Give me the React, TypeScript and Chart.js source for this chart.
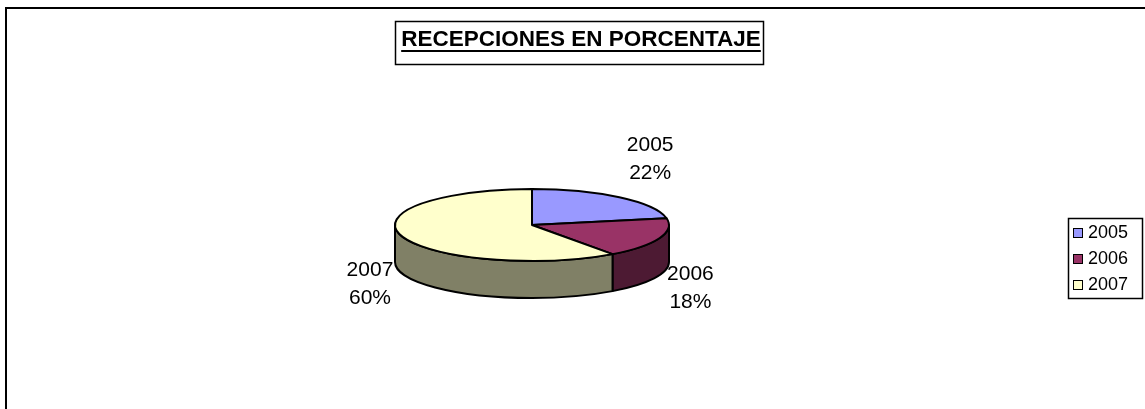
import React, { useEffect, useRef } from "react";
import { Chart, registerables } from "chart.js";

Chart.register(...registerables);

const categories = ["2005", "2006", "2007"];
const values = [22, 18, 60];
const percentLabels = ["22%", "18%", "60%"];
const sliceColors = ["#9999FF", "#993366", "#FFFFCC"];
const sideColors = ["#4D4D80", "#4D1A33", "#808066"];
const chartTitle = "RECEPCIONES EN PORCENTAJE";

const FONT = "'Liberation Sans', Arial, sans-serif";
const TILT = 36 / 137;
const DEPTH = 37 / 137;

function pieGeom(chart: any) {
  const arcs = chart.getDatasetMeta(0).data as any[];
  if (!arcs.length) return null;
  const cx = arcs[0].x;
  const cy = arcs[0].y;
  const rx = arcs[0].outerRadius;
  return { arcs, cx, cy, rx, ry: rx * TILT, depth: rx * DEPTH };
}

const pie3d = {
  id: "pie3d",
  beforeDatasetsDraw(chart: any) {
    const ctx = chart.ctx as CanvasRenderingContext2D;
    const g = pieGeom(chart);
    if (!g) return false;
    const { arcs, cx, cy, rx, ry, depth } = g;
    ctx.save();
    ctx.lineWidth = 2;
    ctx.strokeStyle = "#000";
    ctx.lineJoin = "round";
    arcs.forEach((arc, i) => {
      const a1 = arc.startAngle;
      const a2 = arc.endAngle;
      for (let k = -1; k <= 1; k++) {
        const lo = Math.max(a1, 2 * Math.PI * k);
        const hi = Math.min(a2, 2 * Math.PI * k + Math.PI);
        if (hi <= lo) continue;
        ctx.beginPath();
        ctx.ellipse(cx, cy, rx, ry, 0, lo, hi, false);
        ctx.lineTo(cx + rx * Math.cos(hi), cy + ry * Math.sin(hi) + depth);
        ctx.ellipse(cx, cy + depth, rx, ry, 0, hi, lo, true);
        ctx.closePath();
        ctx.fillStyle = sideColors[i];
        ctx.fill();
        ctx.stroke();
      }
    });
    arcs.forEach((arc, i) => {
      ctx.beginPath();
      ctx.moveTo(cx, cy);
      ctx.ellipse(cx, cy, rx, ry, 0, arc.startAngle, arc.endAngle, false);
      ctx.closePath();
      ctx.fillStyle = sliceColors[i];
      ctx.fill();
      ctx.stroke();
    });
    ctx.restore();
    return false;
  },
};

const decorations = {
  id: "decorations",
  afterDraw(chart: any) {
    const ctx = chart.ctx as CanvasRenderingContext2D;
    ctx.save();
    // data labels
    const g = pieGeom(chart);
    if (g) {
      const { arcs, cx, cy, rx, ry, depth } = g;
      const lineH = 28;
      ctx.font = `21px ${FONT}`;
      ctx.fillStyle = "#000";
      ctx.textAlign = "center";
      ctx.textBaseline = "middle";
      arcs.forEach((arc, i) => {
        const mid = (arc.startAngle + arc.endAngle) / 2;
        const c = Math.cos(mid);
        const s = Math.sin(mid);
        const gap = s < 0 ? 25 : 10;
        const ax = cx + (rx + gap) * c;
        const ay = cy + (ry + gap) * s + (s > 0 ? depth : 0);
        const w = Math.max(ctx.measureText(categories[i]).width, ctx.measureText(percentLabels[i]).width);
        const h = lineH + 21;
        const bx = ax + (c * w) / 2;
        const by = ay + (s * h) / 2;
        ctx.fillText(categories[i], bx, by - lineH / 2);
        ctx.fillText(percentLabels[i], bx, by + lineH / 2);
      });
    }
    // outer chart frame
    ctx.strokeStyle = "#000";
    ctx.lineWidth = 2;
    ctx.strokeRect(6, 8, 1400, 600);
    // title box
    ctx.font = `bold 22.5px ${FONT}`;
    const tw = ctx.measureText(chartTitle).width;
    const tcx = 581;
    const tcy = 40;
    ctx.lineWidth = 1.5;
    ctx.strokeRect(395.5, 21.5, 368, 43);
    ctx.fillStyle = "#000";
    ctx.textAlign = "center";
    ctx.textBaseline = "middle";
    ctx.fillText(chartTitle, tcx, tcy);
    ctx.fillRect(tcx - tw / 2, 50, tw, 2);
    // legend
    const lx = 1068;
    const ly = 218;
    ctx.lineWidth = 1.5;
    ctx.strokeRect(lx + 0.5, ly + 0.5, 74, 80);
    ctx.font = `18px ${FONT}`;
    ctx.textAlign = "left";
    categories.forEach((cat, i) => {
      const yy = ly + 14 + i * 26;
      ctx.fillStyle = sliceColors[i];
      ctx.fillRect(lx + 5, yy - 4, 10, 10);
      ctx.lineWidth = 1;
      ctx.strokeStyle = "#000";
      ctx.strokeRect(lx + 5.5, yy - 3.5, 9, 9);
      ctx.fillStyle = "#000";
      ctx.fillText(cat, lx + 20, yy + 1);
    });
    ctx.restore();
  },
};

export default function App() {
  const canvasRef = useRef<HTMLCanvasElement | null>(null);

  useEffect(() => {
    document.body.style.margin = "0";
    const canvas = canvasRef.current;
    if (!canvas) return;
    const chart = new Chart(canvas, {
      type: "pie",
      data: {
        labels: categories,
        datasets: [
          {
            data: values,
            backgroundColor: sliceColors,
            borderWidth: 0,
          },
        ],
      },
      options: {
        responsive: false,
        animation: false,
        devicePixelRatio: 1,
        layout: { padding: { left: 395, right: 476, top: 88, bottom: 47 } },
        plugins: {
          legend: { display: false },
          title: { display: false },
          tooltip: { enabled: false },
        },
      },
      plugins: [pie3d, decorations],
    });
    return () => chart.destroy();
  }, []);

  return (
    <div style={{ width: 1145, height: 409, background: "#fff", overflow: "hidden" }}>
      <canvas ref={canvasRef} width={1145} height={409} style={{ display: "block" }} />
    </div>
  );
}
